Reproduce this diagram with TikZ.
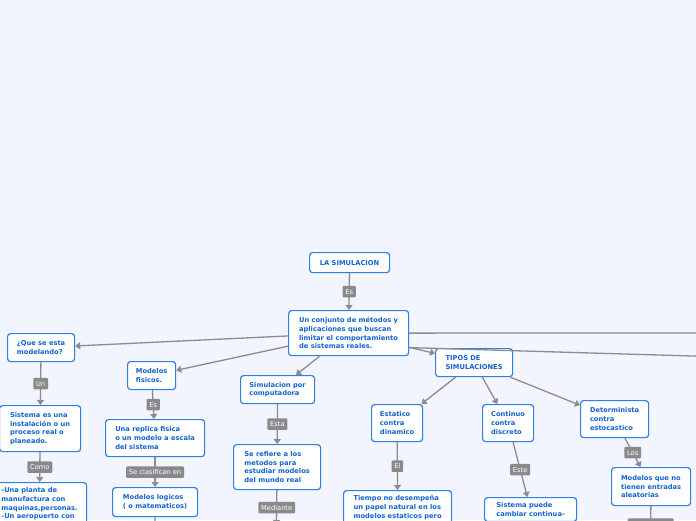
\documentclass[tikz,border=0pt]{standalone}
\usepackage{fontspec}
\setmainfont{DejaVu Sans}
\usetikzlibrary{arrows.meta}
\definecolor{bg}{RGB}{242,245,254}
\definecolor{boxblue}{RGB}{48,128,226}
\definecolor{txtblue}{RGB}{20,100,205}
\definecolor{linegray}{RGB}{140,140,140}
\definecolor{labgray}{RGB}{138,138,138}
\begin{document}
\begin{tikzpicture}[x=1pt,y=-1pt,
  box/.style={draw=boxblue, line width=1.2pt, fill=white, rounded corners=3pt,
    align=left, text=txtblue, font=\bfseries\fontsize{6.7}{8.7}\selectfont,
    inner xsep=6pt, inner ysep=5pt, anchor=north west},
  lab/.style={fill=labgray, text=white, font=\fontsize{6.7}{8}\selectfont,
    inner xsep=2.8pt, inner ysep=0pt, minimum height=11.5pt, rounded corners=1pt},
  conn/.style={draw=linegray, line width=1.3pt, -{Triangle[width=7pt,length=5pt]}}]
\useasboundingbox (0,0) rectangle (696,520);
\fill[bg] (0,0) rectangle (696,520);

% nodes
\node[box, minimum width=80pt, minimum height=20pt, align=center] (sim) at (309,252) {LA SIMULACION};
\node[box, minimum width=120pt, minimum height=45pt] (main) at (288,310) {Un conjunto de métodos y\\aplicaciones que buscan\\limitar el comportamiento\\de sistemas reales.};
\node[box, minimum width=67pt, minimum height=28pt] (que) at (7,333) {¿Que se esta\\modelando?};
\node[box, minimum width=81pt, minimum height=46pt] (sist) at (-1,405) {Sistema es una\\instalación o un\\proceso real o\\planeado.};
\node[box, minimum width=94pt] (planta) at (-8,482) {-Una planta de\\manufactura con\\maquinas,personas.\\-Un aeropuerto con};
\node[box, minimum width=48pt, minimum height=28pt] (fis) at (127,361) {Modelos\\fisicos.};
\node[box, minimum width=99pt, minimum height=37pt] (rep) at (105,419) {Una replica fisica\\o un modelo a escala\\del sistema};
\node[box, minimum width=85pt, minimum height=29pt] (log) at (112,487) {Modelos logicos\\( o matematicos)};
\node[box, minimum width=74pt, minimum height=28pt] (comp) at (240,375) {Simulacion por\\computadora};
\node[box, minimum width=87pt, minimum height=45pt] (ref) at (233,444) {Se refiere a los\\metodos para\\estudiar modelos\\del mundo real};
\node[box, minimum width=77pt, minimum height=28pt] (tipos) at (435,348) {TIPOS DE\\SIMULACIONES};
\node[box, minimum width=51pt, minimum height=37pt] (est) at (371,404) {Estatico\\contra\\dinamico};
\node[box, minimum width=108pt] (tiempo) at (343,490) {Tiempo no desempeña\\un papel natural en los\\modelos estaticos pero};
\node[box, minimum width=51pt, minimum height=37pt] (cont) at (482,404) {Continuo\\contra\\discreto};
\node[box, minimum width=92pt] (sisp) at (484,497) {Sistema puede\\cambiar continua-};
\node[box, minimum width=68pt, minimum height=37pt] (det) at (580,400) {Determinista\\contra\\estocastico};
\node[box, minimum width=79pt, minimum height=38pt] (mod) at (611,467) {Modelos que no\\tienen entradas\\aleatorias};

% off-canvas ends
\coordinate (offA) at (760,333);
\coordinate (offB) at (760,358);
\coordinate (offLog) at (154.5,560);
\coordinate (offRef) at (276.5,525);
\coordinate (offMod) at (650.5,542);

% connectors
\draw[conn] (sim) -- node[lab]{Es} (main);
\draw[conn] (main) -- (que);
\draw[conn] (main) -- (fis);
\draw[conn] (main) -- (comp);
\draw[conn] (main) -- (tipos);
\draw[conn] (main.east) -- (offA);
\draw[conn] ([yshift=-14.5pt]main.east) -- (offB);
\draw[conn] (que) -- node[lab]{Un} (sist);
\draw[conn] (sist) -- node[lab]{Como} (planta);
\draw[conn] (fis) -- node[lab]{Es} (rep);
\draw[conn] (rep) -- node[lab]{Se clasifican en} (log);
\draw[conn] (log) -- (offLog);
\draw[conn] (comp) -- node[lab]{Esta} (ref);
\draw[conn] (ref) -- node[lab]{Mediante} (offRef);
\draw[conn] (tipos) -- (est);
\draw[conn] (tipos) -- (cont);
\draw[conn] (tipos) -- (det);
\draw[conn] (est) -- node[lab]{El} (tiempo);
\draw[conn] (cont) -- node[lab]{Este} (sisp);
\draw[conn] (det) -- node[lab]{Los} (mod);
\draw[conn] (mod) -- node[lab, minimum width=46pt]{} (offMod);
\end{tikzpicture}
\end{document}
